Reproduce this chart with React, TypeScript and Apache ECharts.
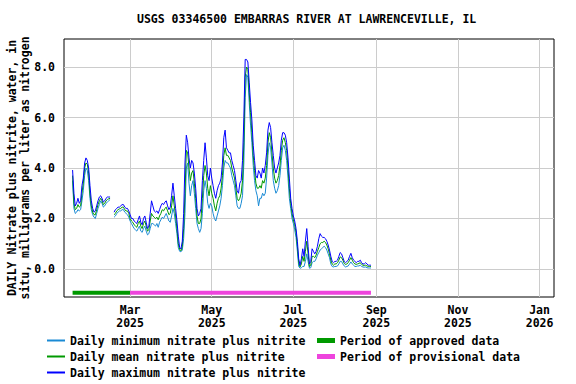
import React, { useEffect, useRef } from 'react';
import * as echarts from 'echarts';

const TITLE = 'USGS 03346500 EMBARRAS RIVER AT LAWRENCEVILLE, IL';
const Y_NAME = 'DAILY Nitrate plus nitrite, water, in\nsitu, milligrams per liter as nitrogen';
const SERIES_NAMES = [
  'Daily minimum nitrate plus nitrite',
  'Daily mean nitrate plus nitrite',
  'Daily maximum nitrate plus nitrite',
];
const PERIOD_NAMES = ['Period of approved data', 'Period of provisional data'];
const MONTHS = ['Jan', 'Feb', 'Mar', 'Apr', 'May', 'Jun', 'Jul', 'Aug', 'Sep', 'Oct', 'Nov', 'Dec'];

// first daily value: 2025-01-17
const START_Y = 2025, START_M = 0, START_D = 17;

const maxVals = [
  3.92, 3.0, 2.5, 2.6, 2.8, 2.6, 2.7, 3.3, 3.6, 4.2,
  4.4, 4.3, 4.0, 3.3, 2.7, 2.4, 2.25, 2.3, 2.5, 2.7,
  2.85, 2.9, 2.8, 2.65, 2.7, 2.8, 2.85, 2.85, 2.85, null, null,
  2.25, 2.35, 2.4, 2.45, 2.45, 2.5, 2.55, 2.55, 2.45, 2.4,
  2.4, 2.3, 2.15, 2.0, 2.0, 1.9, 1.85, 1.8, 1.95, 2.1,
  1.85, 1.75, 2.0, 2.1, 1.85, 1.6, 1.7, 2.2, 2.7, 2.5,
  2.3, 2.25, 2.3, 2.2, 2.35, 2.5, 2.6, 2.55, 2.65, 2.7,
  2.5, 2.35, 2.45, 2.9, 3.4, 2.9, 2.4, 1.9, 1.3, 0.85,
  0.8, 1.1, 2.2, 4.2, 5.3, 5.0, 4.4, 4.0, 4.3, 4.2,
  3.8, 3.2, 2.4, 2.1, 2.2, 2.4, 3.5, 4.3, 5.0, 4.4,
  3.7, 3.5, 4.0, 3.6, 3.3, 3.0, 2.8, 3.1, 3.3, 3.4,
  3.6, 4.2, 5.2, 5.5, 4.8, 4.7, 4.6, 4.6, 4.3, 4.1,
  3.9, 3.5, 3.1, 3.0, 3.4, 3.5, 4.3, 6.0, 8.3, 8.3,
  8.2, 7.4, 6.6, 5.9, 4.9, 4.3, 3.7, 3.6, 3.9, 3.8,
  3.6, 4.0, 3.8, 4.1, 4.6, 5.5, 5.8, 5.6, 5.0, 4.5,
  4.0, 3.8, 4.0, 4.2, 4.5, 5.1, 5.4, 5.4, 5.3, 5.0,
  4.4, 3.6, 2.8, 2.4, 2.1, 1.9, 1.6, 1.1, 0.4, 0.15,
  0.4, 0.8, 0.5, 1.1, 1.6, 0.9, 0.2, 0.3, 0.8, 0.7,
  0.6, 0.7, 0.9, 1.2, 1.4, 1.3, 1.25, 1.25, 1.2, 1.1,
  0.95, 0.75, 0.5, 0.3, 0.25, 0.3, 0.3, 0.35, 0.5, 0.65,
  0.6, 0.45, 0.3, 0.25, 0.3, 0.35, 0.5, 0.62, 0.45, 0.35,
  0.3, 0.25, 0.3, 0.3, 0.35, 0.25, 0.2, 0.2, 0.25, 0.2,
  0.15, 0.15, 0.15,
];

const meanVals = [
  3.7, 2.6, 2.35, 2.4, 2.55, 2.45, 2.5, 3.0, 3.4, 4.0,
  4.2, 4.15, 3.8, 3.0, 2.5, 2.25, 2.15, 2.15, 2.35, 2.55,
  2.7, 2.8, 2.7, 2.55, 2.6, 2.7, 2.75, 2.78, 2.8, null, null,
  2.15, 2.2, 2.3, 2.35, 2.38, 2.4, 2.45, 2.45, 2.35, 2.3,
  2.3, 2.2, 2.0, 1.9, 1.85, 1.75, 1.7, 1.65, 1.8, 1.9,
  1.7, 1.6, 1.8, 1.9, 1.7, 1.5, 1.55, 1.9, 2.2, 2.1,
  2.05, 2.0, 2.05, 1.95, 2.1, 2.2, 2.35, 2.3, 2.4, 2.45,
  2.3, 2.15, 2.2, 2.5, 2.9, 2.5, 2.1, 1.6, 1.0, 0.78,
  0.72, 0.9, 1.6, 3.0, 4.7, 4.6, 4.0, 3.5, 3.8, 3.9,
  3.4, 2.8, 2.1, 1.8, 1.8, 2.0, 2.8, 3.7, 4.1, 3.8,
  3.2, 2.9, 3.3, 3.0, 2.8, 2.5, 2.3, 2.6, 2.8, 2.9,
  3.2, 3.7, 4.5, 4.8, 4.5, 4.5, 4.4, 4.3, 4.0, 3.8,
  3.6, 3.2, 2.8, 2.7, 2.8, 3.0, 3.5, 5.0, 7.6, 8.0,
  7.9, 7.0, 6.2, 5.4, 4.5, 3.9, 3.4, 3.2, 3.2, 3.3,
  3.2, 3.5, 3.4, 3.6, 4.1, 5.0, 5.4, 5.2, 4.6, 4.0,
  3.6, 3.4, 3.5, 3.7, 4.1, 4.7, 5.1, 5.2, 5.0, 4.7,
  4.0, 3.2, 2.6, 2.2, 1.95, 1.75, 1.45, 0.9, 0.25, 0.08,
  0.2, 0.5, 0.3, 0.7, 1.1, 0.6, 0.1, 0.15, 0.5, 0.5,
  0.45, 0.55, 0.7, 0.85, 1.0, 1.05, 1.05, 1.1, 1.05, 0.95,
  0.8, 0.6, 0.35, 0.2, 0.15, 0.2, 0.2, 0.25, 0.35, 0.48,
  0.45, 0.35, 0.22, 0.18, 0.2, 0.25, 0.35, 0.45, 0.35, 0.25,
  0.2, 0.18, 0.2, 0.22, 0.25, 0.18, 0.15, 0.14, 0.15, 0.12,
  0.1, 0.1, 0.1,
];

const minVals = [
  3.5, 2.4, 2.2, 2.25, 2.35, 2.3, 2.35, 2.7, 3.1, 3.7,
  4.0, 3.9, 3.5, 2.8, 2.35, 2.15, 2.05, 2.0, 2.2, 2.4,
  2.55, 2.7, 2.6, 2.45, 2.5, 2.6, 2.65, 2.7, 2.75, null, null,
  2.05, 2.1, 2.2, 2.25, 2.3, 2.3, 2.35, 2.35, 2.25, 2.2,
  2.15, 2.05, 1.9, 1.8, 1.7, 1.6, 1.55, 1.5, 1.6, 1.7,
  1.5, 1.45, 1.6, 1.7, 1.5, 1.35, 1.4, 1.6, 1.8, 1.8,
  1.75, 1.7, 1.8, 1.65, 1.85, 1.95, 2.05, 2.0, 2.1, 2.2,
  2.05, 1.9, 1.85, 2.1, 2.4, 2.2, 1.8, 1.4, 0.85, 0.7,
  0.68, 0.75, 1.2, 2.2, 4.0, 4.2, 3.4, 2.9, 3.3, 3.5,
  3.0, 2.4, 1.8, 1.6, 1.45, 1.6, 2.2, 3.1, 3.5, 3.2,
  2.6, 2.4, 2.6, 2.5, 2.2, 2.0, 1.9, 2.1, 2.3, 2.5,
  2.8, 3.3, 4.0, 4.3, 4.2, 4.2, 4.1, 4.0, 3.7, 3.5,
  3.3, 2.9, 2.5, 2.4, 2.4, 2.6, 2.9, 4.2, 6.8, 7.7,
  7.6, 6.6, 5.7, 5.0, 4.1, 3.5, 3.1, 2.9, 2.5, 2.8,
  2.8, 3.0, 2.9, 3.0, 3.6, 4.5, 5.0, 4.8, 4.2, 3.5,
  3.2, 3.0, 3.1, 3.3, 3.7, 4.3, 4.8, 4.9, 4.7, 4.3,
  3.6, 2.8, 2.4, 2.0, 1.8, 1.55, 1.25, 0.7, 0.1, 0.03,
  0.05, 0.1, 0.1, 0.3, 0.6, 0.3, 0.03, 0.05, 0.25, 0.3,
  0.3, 0.4, 0.55, 0.65, 0.75, 0.8, 0.85, 0.9, 0.85, 0.75,
  0.6, 0.45, 0.2, 0.1, 0.08, 0.1, 0.1, 0.12, 0.2, 0.3,
  0.3, 0.2, 0.12, 0.08, 0.1, 0.12, 0.2, 0.28, 0.2, 0.15,
  0.1, 0.1, 0.12, 0.12, 0.15, 0.1, 0.08, 0.07, 0.08, 0.05,
  0.04, 0.04, 0.04,
];

const xTickDates = ['2025-03-01', '2025-05-01', '2025-07-01', '2025-09-01', '2025-11-01', '2026-01-01'];
const yTickValues = [0, 2, 4, 6, 8];
const approvedPeriod = ['2025-01-17', '2025-03-01'];
const provisionalPeriod = ['2025-03-01', '2025-08-28'];
const PERIOD_LEVEL = -0.94;

const parseDay = (s: string) => {
  const [y, m, d] = s.split('-').map(Number);
  return new Date(y, m - 1, d).getTime();
};
const dayTs = (i: number) => new Date(START_Y, START_M, START_D + i).getTime();

const COLORS = { min: '#1a8ad4', mean: '#009900', max: '#0000ff', approved: '#009900', provisional: '#ee44dd' };
const FONT = {
  fontFamily: "'DejaVu Sans Mono', monospace",
  fontWeight: 'bold' as const,
  fontSize: 11.5,
  color: '#000',
};

export default function App() {
  const ref = useRef<HTMLDivElement>(null);
  useEffect(() => {
    if (!ref.current) return;
    const chart = echarts.init(ref.current, undefined, { renderer: 'svg' });
    const toSeries = (vals: (number | null)[]) => vals.map((v, i) => [dayTs(i), v]);
    const tickVals = xTickDates.map(parseDay);
    const option: any = {
      animation: false,
      backgroundColor: '#fff',
      title: { text: TITLE, left: 137, top: 13, padding: 0, textStyle: { ...FONT } },
      grid: {
        left: 64, right: 22, top: 39, bottom: 87,
        show: true, borderColor: '#000', borderWidth: 1,
        containLabel: false, outerBoundsMode: 'none',
      },
      xAxis: {
        type: 'value',
        min: new Date(2025, 0, 10, 14).getTime(),
        max: new Date(2026, 0, 11, 19).getTime(),
        axisLine: { show: false },
        axisTick: { show: false, customValues: tickVals },
        axisLabel: {
          customValues: tickVals,
          formatter: (v: number) => {
            const d = new Date(v);
            return MONTHS[d.getMonth()] + '\n' + d.getFullYear();
          },
          margin: 6,
          lineHeight: 13,
          hideOverlap: false,
          ...FONT,
        },
        splitLine: { show: true, lineStyle: { color: '#cccccc', width: 1 } },
      },
      yAxis: {
        type: 'value',
        min: -1.11,
        max: 9.11,
        axisLine: { show: false },
        axisTick: { show: false, customValues: yTickValues },
        axisLabel: {
          margin: 9,
          customValues: yTickValues,
          formatter: (v: number) => v.toFixed(1),
          ...FONT,
        },
        splitLine: { show: true, lineStyle: { color: '#cccccc', width: 1 } },
        name: Y_NAME,
        nameLocation: 'middle',
        nameRotate: 90,
        nameGap: 33,
        nameMoveOverlap: false,
        nameTextStyle: { ...FONT, lineHeight: 13 },
      },
      legend: [
        {
          data: SERIES_NAMES,
          orient: 'vertical',
          left: 47,
          top: 334,
          padding: 0,
          itemWidth: 18,
          itemHeight: 2,
          itemGap: 3,
          icon: 'rect',
          textStyle: { ...FONT, lineHeight: 13 },
        },
        {
          data: PERIOD_NAMES,
          orient: 'vertical',
          left: 317,
          top: 334,
          padding: 0,
          itemWidth: 18,
          itemHeight: 5,
          itemGap: 3,
          icon: 'rect',
          textStyle: { ...FONT, lineHeight: 13 },
        },
      ],
      series: [
        { name: SERIES_NAMES[0], type: 'line', data: toSeries(minVals), showSymbol: false, color: COLORS.min, lineStyle: { width: 1, color: COLORS.min }, z: 2 },
        { name: SERIES_NAMES[1], type: 'line', data: toSeries(meanVals), showSymbol: false, color: COLORS.mean, lineStyle: { width: 1, color: COLORS.mean }, z: 3 },
        { name: SERIES_NAMES[2], type: 'line', data: toSeries(maxVals), showSymbol: false, color: COLORS.max, lineStyle: { width: 1, color: COLORS.max }, z: 4 },
        {
          name: PERIOD_NAMES[0], type: 'line', showSymbol: false, color: COLORS.approved,
          lineStyle: { width: 4, color: COLORS.approved },
          data: approvedPeriod.map((d) => [parseDay(d), PERIOD_LEVEL]), z: 5,
        },
        {
          name: PERIOD_NAMES[1], type: 'line', showSymbol: false, color: COLORS.provisional,
          lineStyle: { width: 4, color: COLORS.provisional },
          data: provisionalPeriod.map((d) => [parseDay(d), PERIOD_LEVEL]), z: 5,
        },
      ],
    };
    chart.setOption(option);
    return () => chart.dispose();
  }, []);
  return <div ref={ref} style={{ position: 'fixed', left: 0, top: 0, width: 576, height: 384 }} />;
}
